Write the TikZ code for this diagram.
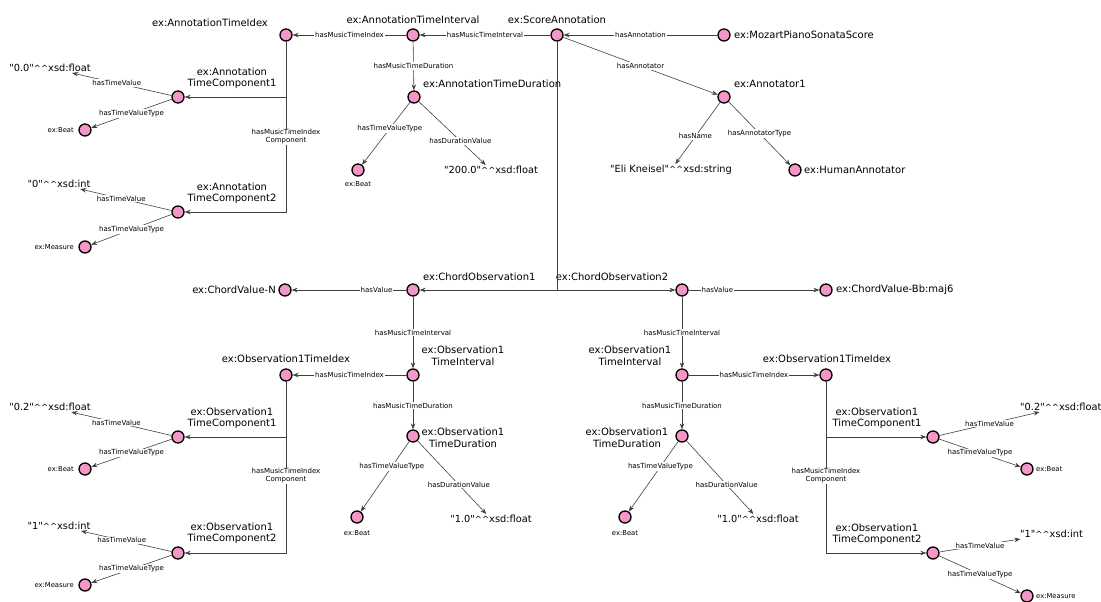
\documentclass[tikz,border=0pt]{standalone}
\usepackage{fontspec}
\setmainfont{DejaVu Sans}[Ligatures=TeXOff]
\usetikzlibrary{arrows.meta}
\definecolor{nodepink}{RGB}{245,150,200}
\newcommand{\cc}{{\fontsize{8.5}{10}\selectfont\textasciicircum\textasciicircum}}
\begin{document}
\begin{tikzpicture}[x=1pt,y=-1pt,
 res/.style={circle,draw=black,line width=1.3pt,fill=nodepink,minimum size=12pt,inner sep=0pt},
 big/.style={font=\fontsize{10}{11.5}\selectfont,inner sep=1pt,align=center},
 small/.style={font=\fontsize{6.8}{8}\selectfont,inner sep=1pt},
 lit/.style={font=\fontsize{9.8}{12}\selectfont,inner sep=1pt},
 rel/.style={draw=black!75,line width=0.6pt,-{Stealth[length=6pt,width=4.5pt]}},
 lab/.style={font=\fontsize{7}{8}\selectfont,fill=white,inner sep=1pt,text=black,align=center}
]
\useasboundingbox (0,0) rectangle (1101,602);

% ---------- top part ----------
\node[res] (ati) at (286,35) {};
\node[big] (atiL) at (210,23) {ex:AnnotationTimeIdex};
\node[res] (atint) at (413,35) {};
\node[big] (atintL) at (413,20) {ex:AnnotationTimeInterval};
\node[res] (score) at (557,35) {};
\node[big] (scoreL) at (557,20) {ex:ScoreAnnotation};
\node[res] (mozart) at (724,35) {};
\node[big,anchor=west] (mozartL) at (733,35) {ex:MozartPianoSonataScore};
\node[res] (atdur) at (414,97) {};
\node[big,anchor=west] (atdurL) at (422,84) {ex:AnnotationTimeDuration};
\node[res] (ann1) at (724,97) {};
\node[big,anchor=west] (ann1L) at (733,84) {ex:Annotator1};
\node[res] (human) at (795,170) {};
\node[big,anchor=west] (humanL) at (803,170) {ex:HumanAnnotator};
\node[res] (beat2) at (358,170) {};
\node[small] (beat2L) at (358,184) {ex:Beat};
\node[lit] (v200) at (491,170) {"200.0"\cc xsd:float};
\node[lit] (eli) at (671,170) {"Eli Kneisel"\cc xsd:string};

\node[res] (atc1) at (178,97) {};
\node[big] (atc1L) at (232,78) {ex:Annotation\\TimeComponent1};
\node[res] (atc2) at (178,212) {};
\node[big] (atc2L) at (232,193) {ex:Annotation\\TimeComponent2};
\node[lit] (v00) at (50,68) {"0.0"\cc xsd:float};
\node[lit] (v0int) at (59,184) {"0"\cc xsd:int};
\node[res] (beat1) at (85,130) {};
\node[small,anchor=east] (beat1L) at (75,130) {ex:Beat};
\node[res] (meas1) at (85,247) {};
\node[small,anchor=east] (meas1L) at (75,247) {ex:Measure};

\draw[rel] (score) -- node[lab]{hasMusicTimeInterval} (atint);
\draw[rel] (atint) -- node[lab]{hasMusicTimeIndex} (ati);
\draw[rel] (mozart) -- node[lab]{hasAnnotation} (score);
\draw[rel] (score) -- node[lab]{hasAnnotator} (ann1);
\draw[rel] (atint) -- node[lab]{hasMusicTimeDuration} (atdur);
\draw[rel] (atdur) -- node[lab,pos=0.42]{hasTimeValueType} (beat2);
\draw[rel] (atdur) -- node[lab,pos=0.62]{hasDurationValue} (v200);
\draw[rel] (ann1) -- node[lab,pos=0.55]{hasName} (eli);
\draw[rel] (ann1) -- node[lab,pos=0.5]{hasAnnotatorType} (human);
\draw[rel] (ati) |- (atc1);
\draw[rel] (ati) |- node[lab,pos=0.28]{hasMusicTimeIndex\\Component} (atc2);
\draw[rel] (atc1) -- node[lab,pos=0.55]{hasTimeValue} (v00);
\draw[rel] (atc1) -- node[lab]{hasTimeValueType} (beat1);
\draw[rel] (atc2) -- node[lab,pos=0.55]{hasTimeValue} (v0int);
\draw[rel] (atc2) -- node[lab]{hasTimeValueType} (meas1);

% ---------- chord observations ----------
\node[res] (cvN) at (285,290) {};
\node[big,anchor=east] (cvNL) at (277,290) {ex:ChordValue-N};
\node[res] (co1) at (413,290) {};
\node[big,anchor=west] (co1L) at (422,277) {ex:ChordObservation1};
\node[res] (co2) at (682,290) {};
\node[big] (co2L) at (612,277) {ex:ChordObservation2};
\node[res] (cvBb) at (826,290) {};
\node[big,anchor=west] (cvBbL) at (835,290) {ex:ChordValue-Bb:maj6};

\draw[rel] (score) |- (co1);
\draw[rel] (score) |- (co2);
\draw[rel] (co1) -- node[lab,pos=0.26]{hasValue} (cvN);
\draw[rel] (co2) -- node[lab,pos=0.22]{hasValue} (cvBb);

% ---------- observation 1 (left) ----------
\node[res] (oti1) at (413,375) {};
\node[big] (oti1L) at (463,356) {ex:Observation1\\TimeInterval};
\node[res] (otix1) at (286,375) {};
\node[big] (otix1L) at (286,359) {ex:Observation1TimeIdex};
\node[res] (otd1) at (413,436) {};
\node[big] (otd1L) at (463,438) {ex:Observation1\\TimeDuration};
\node[res] (beat3) at (357,517) {};
\node[small] (beat3L) at (357,533) {ex:Beat};
\node[lit] (v10a) at (491,519) {"1.0"\cc xsd:float};
\node[res] (oc1) at (178,437) {};
\node[big] (oc1L) at (232,418) {ex:Observation1\\TimeComponent1};
\node[res] (oc2) at (178,553) {};
\node[big] (oc2L) at (232,533) {ex:Observation1\\TimeComponent2};
\node[lit] (v02a) at (50,407) {"0.2"\cc xsd:float};
\node[lit] (v1a) at (59,526) {"1"\cc xsd:int};
\node[res] (beat4) at (85,469) {};
\node[small,anchor=east] (beat4L) at (75,469) {ex:Beat};
\node[res] (meas2) at (85,585) {};
\node[small,anchor=east] (meas2L) at (75,585) {ex:Measure};

\draw[rel] (co1) -- node[lab]{hasMusicTimeInterval} (oti1);
\draw[rel] (oti1) -- node[lab]{hasMusicTimeIndex} (otix1);
\draw[rel] (oti1) -- node[lab]{hasMusicTimeDuration} (otd1);
\draw[rel] (otd1) -- node[lab,pos=0.36]{hasTimeValueType} (beat3);
\draw[rel] (otd1) -- node[lab,pos=0.6]{hasDurationValue} (v10a);
\draw[rel] (otix1) |- (oc1);
\draw[rel] (otix1) |- node[lab,pos=0.275]{hasMusicTimeIndex\\Component} (oc2);
\draw[rel] (oc1) -- node[lab,pos=0.55]{hasTimeValue} (v02a);
\draw[rel] (oc1) -- node[lab]{hasTimeValueType} (beat4);
\draw[rel] (oc2) -- node[lab,pos=0.55]{hasTimeValue} (v1a);
\draw[rel] (oc2) -- node[lab]{hasTimeValueType} (meas2);

% ---------- observation 2 (right) ----------
\node[res] (oti2) at (682,375) {};
\node[big] (oti2L) at (630,356) {ex:Observation1\\TimeInterval};
\node[res] (otix2) at (826,375) {};
\node[big] (otix2L) at (827,359) {ex:Observation1TimeIdex};
\node[res] (otd2) at (682,436) {};
\node[big] (otd2L) at (627,438) {ex:Observation1\\TimeDuration};
\node[res] (beat5) at (625,517) {};
\node[small] (beat5L) at (625,533) {ex:Beat};
\node[lit] (v10b) at (758,519) {"1.0"\cc xsd:float};
\node[res] (oc1b) at (933,437) {};
\node[big] (oc1bL) at (877,418) {ex:Observation1\\TimeComponent1};
\node[res] (oc2b) at (933,553) {};
\node[big] (oc2bL) at (877,534) {ex:Observation1\\TimeComponent2};
\node[lit,anchor=west] (v02b) at (1019,407) {"0.2"\cc xsd:float};
\node[lit,anchor=west] (v1b) at (1019,534) {"1"\cc xsd:int};
\node[res] (beat6) at (1027,469) {};
\node[small,anchor=west] (beat6L) at (1035,469) {ex:Beat};
\node[res] (meas3) at (1027,596) {};
\node[small,anchor=west] (meas3L) at (1035,596) {ex:Measure};

\draw[rel] (co2) -- node[lab]{hasMusicTimeInterval} (oti2);
\draw[rel] (oti2) -- node[lab]{hasMusicTimeIndex} (otix2);
\draw[rel] (oti2) -- node[lab]{hasMusicTimeDuration} (otd2);
\draw[rel] (otd2) -- node[lab,pos=0.36]{hasTimeValueType} (beat5);
\draw[rel] (otd2) -- node[lab,pos=0.6]{hasDurationValue} (v10b);
\draw[rel] (otix2) |- (oc1b);
\draw[rel] (otix2) |- node[lab,pos=0.275]{hasMusicTimeIndex\\Component} (oc2b);
\draw[rel] (oc1b) -- node[lab]{hasTimeValue} (v02b);
\draw[rel] (oc1b) -- node[lab]{hasTimeValueType} (beat6);
\draw[rel] (oc2b) -- node[lab]{hasTimeValue} (v1b);
\draw[rel] (oc2b) -- node[lab]{hasTimeValueType} (meas3);
\end{tikzpicture}
\end{document}
